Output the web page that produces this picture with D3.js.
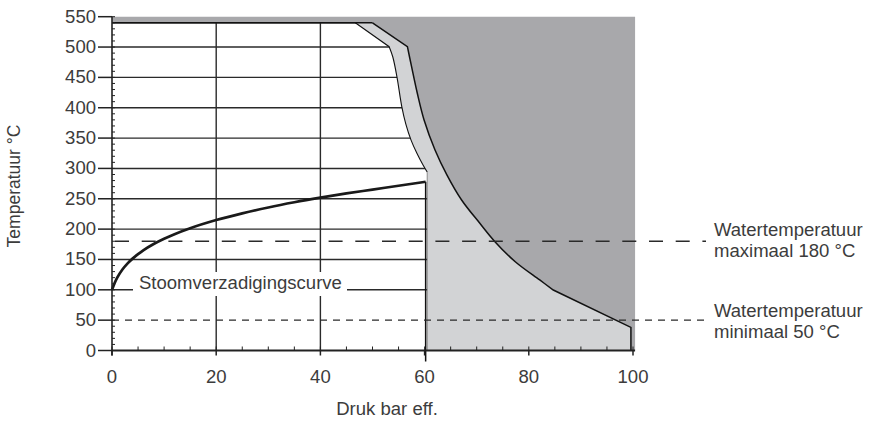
<!DOCTYPE html>
<html><head><meta charset="utf-8">
<script src="https://cdn.jsdelivr.net/npm/d3@7"></script>
<style>body{margin:0;background:#fff}svg{display:block}</style>
</head><body><svg id="c" width="869" height="422"></svg>
<script>
// ---- data ----
const xTicks = [0, 20, 40, 60, 80, 100];
const yTicks = [0, 50, 100, 150, 200, 250, 300, 350, 400, 450, 500, 550];
const xGridValues = [20, 40];
const yGridValues = [100, 150, 200, 250, 300, 350, 400, 450, 500, 540];
// saturation curve: [pressure bar eff, temperature °C]
const saturation = [[0,100],[0.5,111],[1,120],[2,133.5],[3,143.6],[4,151.8],[5,158.8],[6,165],[8,175.4],[10,184],[12,191.6],[15,201.4],[20,214.9],[25,226],[30,235.7],[35,244.2],[40,251.8],[45,258.8],[50,265.1],[55,271.5],[60.2,278]];
// inner limit (white / light grey)
const innerTop = [[46.7,540],[53.2,500.6]];
const innerCurve = [[53.2,500.6],[53.9,483.6],[54.7,450.6],[55.6,402.8],[56.4,373.1],[57.4,346.7],[58.5,325.3],[59.7,305.5],[60.5,294]];
const innerBottom = [[60.5,294],[60.5,0]];
// outer limit (light grey / dark grey)
const outerTop = [[50,540],[56.7,500.6]];
const outerCurve = [[56.7,500.6],[57.5,467.6],[58.6,423.8],[59.9,379.8],[62.0,330.4],[64.3,289],[67.1,248],[70.6,209.6],[73.5,179.3],[77.4,146.3],[82.1,116.2],[84.7,99.7]];
const outerBottom = [[84.7,99.7],[99.6,38],[99.6,0]];
const plotMaxX = 100.4;
const topBand = [540, 550];
const limitLines = [180, 50];
const labelsMax = ["Watertemperatuur", "maximaal 180 °C"];
const labelsMin = ["Watertemperatuur", "minimaal 50 °C"];

// ---- scales ----
const x = d3.scaleLinear().domain([0, 100]).range([112, 633]);
const y = d3.scaleLinear().domain([0, 550]).range([350.5, 16.7]);
const svg = d3.select("#c");
const FONT = "'Liberation Sans', Arial, sans-serif";
const SX = 1.06, FS = 17.5, TXT = "#3c3c3c";
const CURVE = d3.curveCatmullRom.alpha(0.5);

function seg(pts, curve) {
  return d3.line().x(d => x(d[0])).y(d => y(d[1])).curve(curve || d3.curveLinear)(pts);
}
function join(...parts) { return parts.map((p, i) => i ? p.replace(/^M/, "L") : p).join(""); }
function rev(a) { return a.slice().reverse(); }

// ---- grid ----
const g = svg.append("g");
g.selectAll(".hg").data(yGridValues).join("line")
  .attr("x1", x(0)).attr("x2", x(60.6)).attr("y1", d => y(d)).attr("y2", d => y(d))
  .attr("stroke", "#2a2a2a").attr("stroke-width", 1.4);
g.selectAll(".vg").data(xGridValues).join("line")
  .attr("x1", d => x(d)).attr("x2", d => x(d)).attr("y1", y(0)).attr("y2", y(540))
  .attr("stroke", "#2a2a2a").attr("stroke-width", 1.4);

// ---- areas ----
const outerPath = join(seg(outerTop), seg(outerCurve, CURVE), seg(outerBottom));
const outerRev = join(seg(rev(outerBottom)), seg(rev(outerCurve), CURVE), seg(rev(outerTop)));
const innerPath = join(seg(innerTop), seg(innerCurve, CURVE), seg(innerBottom));

const darkD = join(seg([[0, topBand[1]], [plotMaxX, topBand[1]], [plotMaxX, 0], [99.6, 0]]), outerRev, seg([[50, topBand[0]], [0, topBand[0]]])) + "Z";
svg.append("path").attr("d", darkD).attr("fill", "#a8a8ab");
const lightD = join(innerPath, seg([[60.5, 0], [99.6, 0]]), outerRev) + "Z";
svg.append("path").attr("d", lightD).attr("fill", "#d2d3d5");

svg.append("path").attr("d", outerPath).attr("fill", "none").attr("stroke", "#111").attr("stroke-width", 1.5);
svg.append("path").attr("d", join(seg(innerTop), seg(innerCurve, CURVE))).attr("fill", "none").attr("stroke", "#111").attr("stroke-width", 1.1);
svg.append("path").attr("d", seg(innerBottom)).attr("fill", "none").attr("stroke", "#8a8a8a").attr("stroke-width", 1);
svg.append("path").attr("d", seg([[0, topBand[0]], [50, topBand[0]]])).attr("fill", "none").attr("stroke", "#111").attr("stroke-width", 1.5);

// 60 bar vertical line
svg.append("line").attr("x1", x(60.2)).attr("x2", x(60.2)).attr("y1", y(278)).attr("y2", y(0) + 11)
  .attr("stroke", "#111").attr("stroke-width", 1.5);

// ---- saturation curve ----
svg.append("path").attr("d", seg(saturation, d3.curveMonotoneX)).attr("fill", "none")
  .attr("stroke", "#1a1a1a").attr("stroke-width", 2.7);

function stext(sel, str, px, py, anchor) {
  return sel.append("text").attr("transform", `translate(${px},${py}) scale(${SX},1)`)
    .attr("font-family", FONT).attr("font-size", FS).attr("fill", TXT)
    .attr("text-anchor", anchor || "start").text(str);
}
svg.append("rect").attr("x", 133).attr("y", 272).attr("width", 214).attr("height", 24).attr("fill", "#fff");
stext(svg, "Stoomverzadigingscurve", 139, 289);

// ---- dashed limit lines ----
svg.append("line").attr("x1", x(0)).attr("x2", 706).attr("y1", y(limitLines[0])).attr("y2", y(limitLines[0]))
  .attr("stroke", "#2a2a2a").attr("stroke-width", 1.3).attr("stroke-dasharray", "14,12.7").attr("stroke-dashoffset", -3);
svg.append("line").attr("x1", x(0)).attr("x2", 706).attr("y1", y(limitLines[1])).attr("y2", y(limitLines[1]))
  .attr("stroke", "#2a2a2a").attr("stroke-width", 1.3).attr("stroke-dasharray", "7,6");

// ---- axes ----
const ax = svg.append("g");
ax.append("line").attr("x1", x(0)).attr("x2", x(plotMaxX)).attr("y1", y(0)).attr("y2", y(0)).attr("stroke", "#222").attr("stroke-width", 2);
ax.append("line").attr("x1", x(0)).attr("x2", x(0)).attr("y1", y(0) + 5).attr("y2", y(550)).attr("stroke", "#222").attr("stroke-width", 1.6);
ax.selectAll(".yt").data(yTicks).join("line").attr("x1", x(0) - 14).attr("x2", x(0)).attr("y1", d => y(d)).attr("y2", d => y(d)).attr("stroke", "#222").attr("stroke-width", 1.5);
ax.selectAll(".ym").data(d3.range(0, 551, 10)).join("line").attr("x1", x(0)).attr("x2", x(0) + 3).attr("y1", d => y(d)).attr("y2", d => y(d)).attr("stroke", "#222").attr("stroke-width", 1);
ax.selectAll(".xt").data(xTicks).join("line").attr("x1", d => x(d)).attr("x2", d => x(d)).attr("y1", y(0)).attr("y2", y(0) + 5).attr("stroke", "#222").attr("stroke-width", 1.5);
ax.selectAll(".xm").data(d3.range(0, 101, 5)).join("line").attr("x1", d => x(d)).attr("x2", d => x(d)).attr("y1", y(0)).attr("y2", y(0) - 4).attr("stroke", "#222").attr("stroke-width", 1);

yTicks.forEach(v => stext(svg, String(v), 96, y(v) + 6, "end"));
xTicks.forEach(v => stext(svg, String(v), x(v), 383, "middle"));

stext(svg, "Druk bar eff.", 387, 415, "middle");
svg.append("text").attr("transform", "translate(20,186) rotate(-90)")
  .attr("font-family", FONT).attr("font-size", FS).attr("fill", TXT).attr("text-anchor", "middle").text("Temperatuur °C");

stext(svg, labelsMax[0], 714, 236);
stext(svg, labelsMax[1], 714, 257);
stext(svg, labelsMin[0], 714, 317);
stext(svg, labelsMin[1], 714, 338);
</script></body></html>
